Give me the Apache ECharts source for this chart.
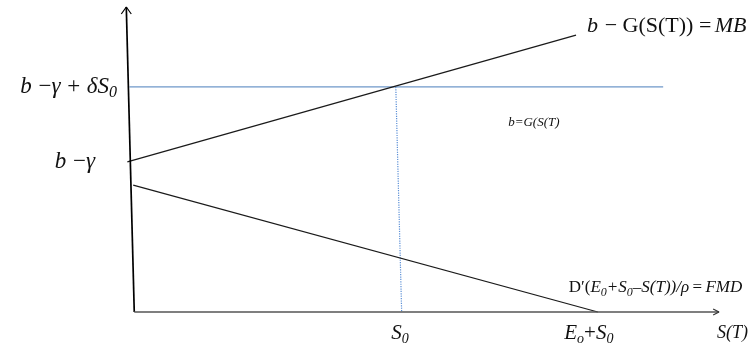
<!DOCTYPE html>
<html><head><meta charset="utf-8">
<script src="https://cdn.jsdelivr.net/npm/echarts@6/dist/echarts.min.js"></script>
<style>html,body{margin:0;padding:0;background:#fff}#c{width:752px;height:348px}</style>
</head><body><div id="c"></div>
<script>
// ---- data (arbitrary model units) ----
const xTickValues = [5.0, 8.72];
const xTickLabels = ['{i|S}{s|0}', '{i|E}{s|o}{n|+}{i|S}{s|0}{pad2|}'];
const yTickValues = [4.92, 7.38];
const yTickLabels = ['{i|b}  {n|−}{i|γ}{pad|}', '{i|b}  {n|−}{i|γ}  {n|+}  {i|δS}{s|0}'];
const xAxisName = 'S(T)';
const mbLine = [[-0.13, 4.92], [8.31, 9.08]];
const fmdLine = [[-0.02, 4.16], [8.72, 0]];
const levelLine = [[-0.09, 7.38], [9.95, 7.38]];
const dropLine = [[4.92, 7.38], [5.03, 0]];
const yAxisLine = [[0, 0], [-0.15, 10]];
const xAxisLine = [[0, 0], [11, 0]];
const yArrow = [[-0.244, 9.77], [-0.15, 10], [-0.056, 9.77]];
const xArrow = [[10.89, 0.1], [11, 0], [10.89, -0.1]];
const mbText = '{i|b}  {n|− G(S(T)) =} {i|MB}';
const fmdText = '{n|D′(}{i|E}{s|0}{i|+S}{s|0}{i|–S(T))/ρ} {n|=} {i|FMD}';
const levelText = 'b=G(S(T)';

const serif = '"Liberation Serif", "DejaVu Serif", serif';
function rich(size) {
  return {
    i: {fontFamily: serif, fontStyle: 'italic', fontSize: size, lineHeight: size + 4, color: '#111'},
    n: {fontFamily: serif, fontStyle: 'normal', fontSize: size, lineHeight: size + 4, color: '#111'},
    s: {fontFamily: serif, fontStyle: 'italic', fontSize: Math.round(size * 0.68), lineHeight: Math.round(size * 0.68), verticalAlign: 'bottom', color: '#111'},
    pad: {width: 22},
    pad2: {width: 18}
  };
}
function seg(data, color, width, type, extra) {
  return Object.assign({
    type: 'line', data: data, symbol: 'none', clip: false, silent: true,
    lineStyle: {color: color, width: width, type: type || 'solid'}
  }, extra || {});
}

const chart = echarts.init(document.getElementById('c'), null, {renderer: 'canvas'});
chart.setOption({
  animation: false,
  backgroundColor: '#fff',
  grid: {left: 113, right: 33, top: 7, bottom: 36, containLabel: false},
  xAxis: {
    type: 'value', min: -0.4, max: 11,
    axisLine: {show: false}, axisTick: {show: false}, splitLine: {show: false},
    axisLabel: {
      show: true, customValues: xTickValues, margin: 9,
      formatter: function (v) { const k = xTickValues.indexOf(v); return k >= 0 ? xTickLabels[k] : ''; },
      rich: rich(21)
    },
    name: xAxisName, nameLocation: 'end', nameGap: -2,
    nameTextStyle: {fontFamily: serif, fontStyle: 'italic', fontSize: 18, color: '#111', verticalAlign: 'top', padding: [12, 0, 0, 0]}
  },
  yAxis: {
    type: 'value', min: 0, max: 10,
    axisLine: {show: false}, axisTick: {show: false}, splitLine: {show: false},
    axisLabel: {
      show: true, customValues: yTickValues, margin: -4,
      formatter: function (v) { const k = yTickValues.indexOf(v); return k >= 0 ? yTickLabels[k] : ''; },
      rich: rich(23)
    }
  },
  series: [
    seg(levelLine, '#4a7ebb', 1, 'solid', {
      endLabel: {show: true, formatter: levelText, offset: [-163, 36], fontFamily: serif, fontStyle: 'italic', fontSize: 13, color: '#111'}
    }),
    seg(dropLine, '#5b8fd6', 1.2, 'dotted'),
    seg(mbLine, '#1a1a1a', 1.2, 'solid', {
      endLabel: {show: true, formatter: mbText, offset: [3, -9], rich: rich(22)}
    }),
    seg(fmdLine, '#1a1a1a', 1.2, 'solid', {
      endLabel: {show: true, formatter: fmdText, offset: [-37, -24], rich: rich(17)}
    }),
    seg(yAxisLine, '#000', 1.7),
    seg(xAxisLine, '#555', 1.6),
    seg(yArrow, '#000', 1.2),
    seg(xArrow, '#333', 1.2)
  ]
});
</script></body></html>
